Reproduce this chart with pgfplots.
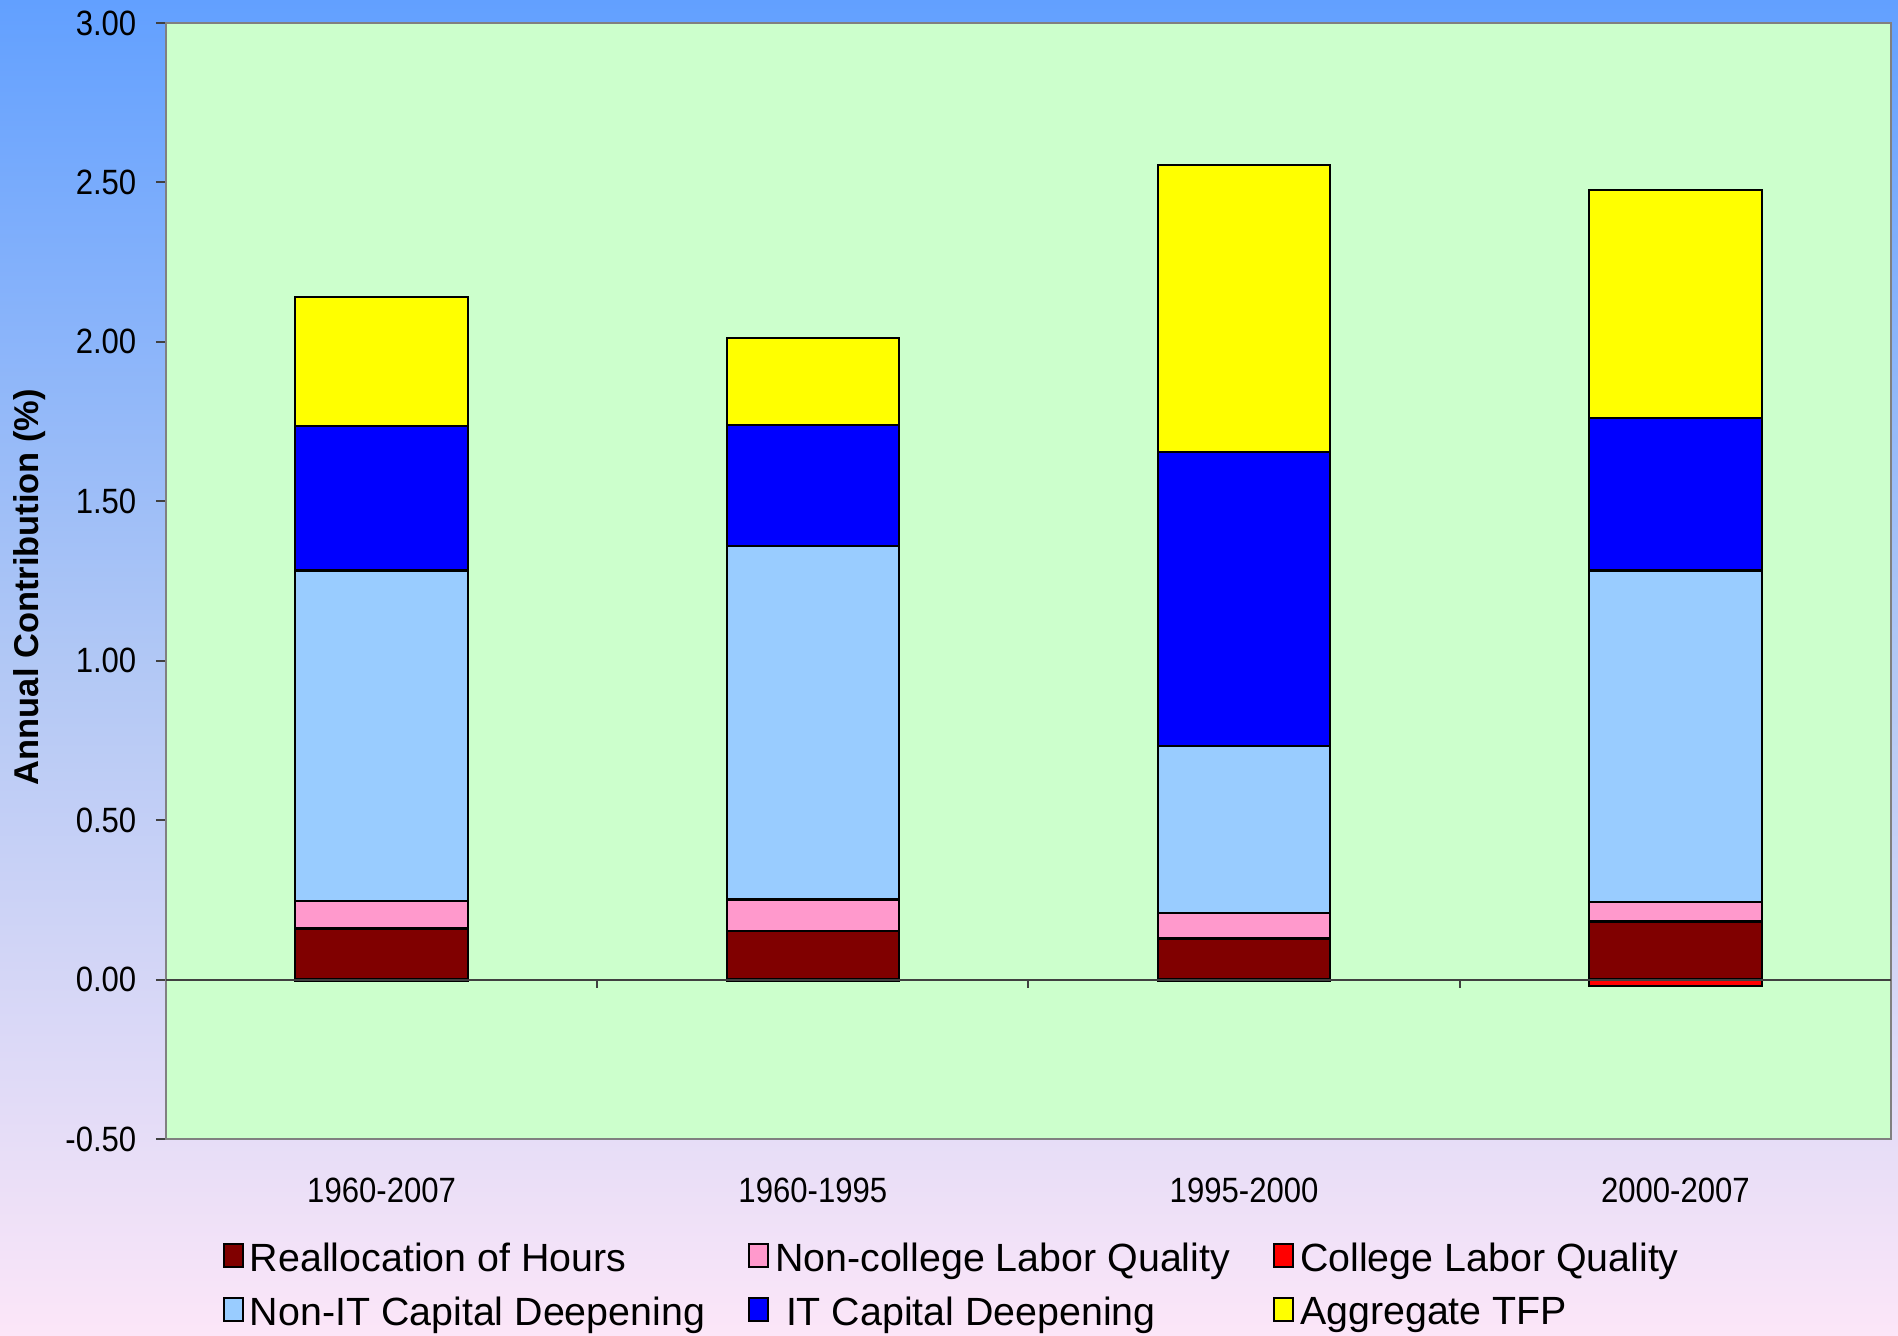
\documentclass[border=0pt]{standalone}
\usepackage{fontspec}
\setmainfont{Liberation Sans}[FakeStretch=0.885]
\newfontfamily\legfont{Liberation Sans}
\newfontfamily\ylfont{Liberation Sans}
\usepackage{pgfplots}
\usepackage{pgfplotstable}
\pgfplotsset{compat=1.18}
\definecolor{bgtop}{RGB}{98,160,255}
\definecolor{bgmid}{RGB}{178,200,245}
\definecolor{bgbot}{RGB}{252,230,248}
\definecolor{plotbg}{RGB}{204,255,204}
\definecolor{cRealloc}{RGB}{128,0,0}
\definecolor{cNonCol}{RGB}{255,153,204}
\definecolor{cCol}{RGB}{255,0,0}
\definecolor{cNonIT}{RGB}{153,204,255}
\definecolor{cIT}{RGB}{0,0,255}
\definecolor{cTFP}{RGB}{255,255,0}

\pgfplotstableread{
x realloc noncol col nonit it tfp
1 0.160 0.087 -0.005 1.036 0.452 0.406
2 0.152 0.099 -0.005 1.108 0.380 0.273
3 0.129 0.080 -0.003 0.524 0.922 0.900
4 0.182 0.061 -0.020 1.040 0.479 0.713
}\datatable

\begin{document}
\begin{tikzpicture}
\shade[top color=bgtop, bottom color=bgbot, middle color=bgmid] (0,0) rectangle (18.98cm,13.36cm);
\useasboundingbox (0,0) rectangle (18.98cm,13.36cm);
\begin{axis}[
  at={(1.66cm,1.97cm)}, anchor=south west,
  scale only axis, width=17.25cm, height=11.16cm,
  xmin=0.5, xmax=4.5, ymin=-0.5, ymax=3,
  ybar stacked, bar width=0.4,
  axis background/.style={fill=plotbg},
  axis line style={draw=black!50, line width=0.25mm},
  xtick={1,2,3,4},
  xticklabels={1960-2007,1960-1995,1995-2000,2000-2007},
  xtick style={draw=none},
  ytick={-0.5,0,0.5,1,1.5,2,2.5,3},
  ytick pos=left, tick align=outside,
  ytick style={draw=black!75, line width=0.2mm},
  major tick length=1mm,
  yticklabel style={/pgf/number format/fixed, /pgf/number format/fixed zerofill, /pgf/number format/precision=2, /pgf/number format/assume math mode=true},
  yticklabel style={font=\fontsize{10}{12}\selectfont, inner xsep=0pt, xshift=-1.9mm},
  xticklabel style={font=\fontsize{10}{12}\selectfont, inner ysep=0pt, yshift=-2.8mm},
  ylabel={Annual Contribution (\%)},
  ylabel style={font=\ylfont\bfseries\fontsize{9.8}{12}\selectfont, at={(axis description cs:-0.0788,0.4946)}, anchor=center},
  legend image code/.code={\draw[#1,draw=black,line width=0.2mm] (0mm,-0.7mm) rectangle (1.9mm,1.6mm);},
  legend columns=3,
  legend cell align=left,
  legend style={at={(axis description cs:0.0265,-0.0862)}, anchor=north west, draw=none, fill=none,
    font=\legfont\fontsize{11.2}{13}\selectfont,
    nodes={inner ysep=0pt, inner xsep=0.6mm},
    row sep=2.0mm,
    /tikz/every even column/.append style={column sep=3.7mm}},
]
\draw[black!75, line width=0.2mm] (axis cs:0.5,0) -- (axis cs:4.5,0);
\draw[black!75, line width=0.2mm] (axis cs:1.5,0) -- (axis cs:1.5,-0.028);
\draw[black!75, line width=0.2mm] (axis cs:2.5,0) -- (axis cs:2.5,-0.028);
\draw[black!75, line width=0.2mm] (axis cs:3.5,0) -- (axis cs:3.5,-0.028);
\addplot[fill=cRealloc, draw=black, line width=0.22mm, forget plot] table[x=x,y=realloc]{\datatable};
\addplot[fill=cNonCol, draw=black, line width=0.22mm, forget plot] table[x=x,y=noncol]{\datatable};
\addplot[fill=cNonIT, draw=black, line width=0.22mm, forget plot] table[x=x,y=nonit]{\datatable};
\addplot[fill=cIT, draw=black, line width=0.22mm, forget plot] table[x=x,y=it]{\datatable};
\addplot[fill=cTFP, draw=black, line width=0.22mm, forget plot] table[x=x,y=tfp]{\datatable};
\addplot[fill=cCol, draw=black, line width=0.22mm, stack plots=false, forget plot] table[x=x,y=col]{\datatable};
\addlegendimage{fill=cRealloc}
\addlegendimage{fill=cNonCol}
\addlegendimage{fill=cCol}
\addlegendimage{fill=cNonIT}
\addlegendimage{fill=cIT}
\addlegendimage{fill=cTFP}
\legend{Reallocation of Hours, Non-college Labor Quality, College Labor Quality, Non-IT Capital Deepening, {\ IT Capital Deepening}, Aggregate TFP}
\end{axis}
\end{tikzpicture}
\end{document}
